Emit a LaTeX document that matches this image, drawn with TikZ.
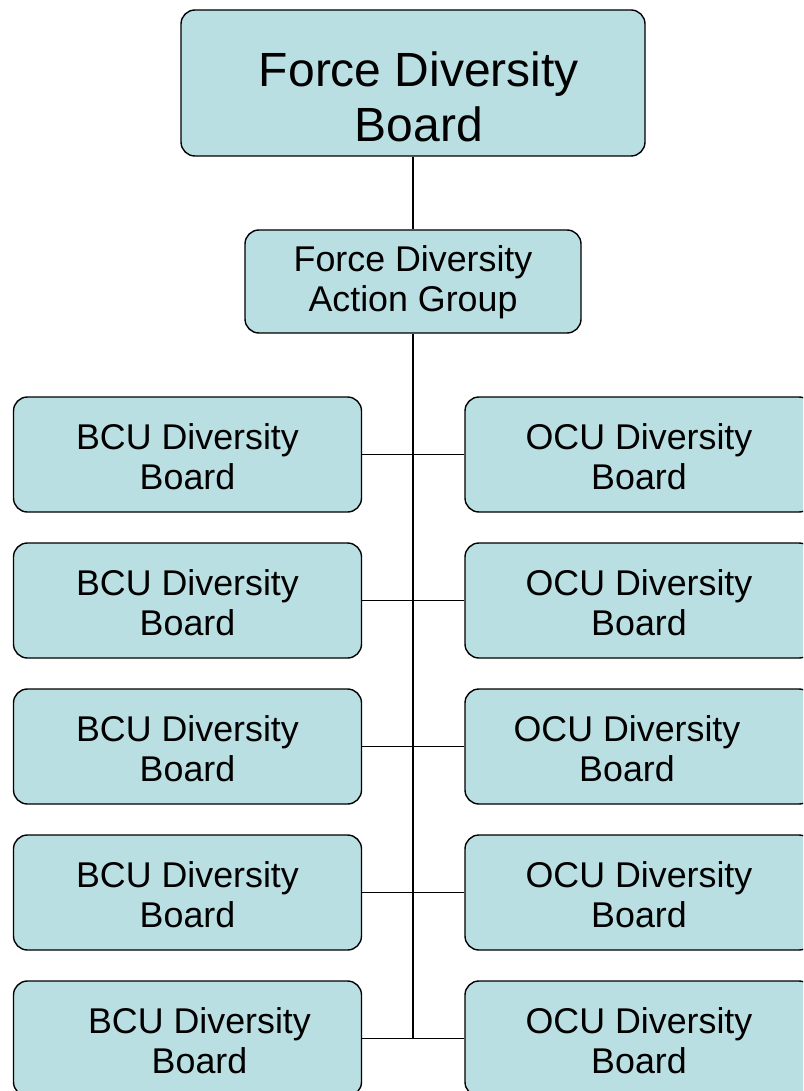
\documentclass[tikz,border=0pt]{standalone}
\usepackage{fontspec}
\setmainfont{Liberation Sans}
\definecolor{boxblue}{RGB}{186,223,227}
\begin{document}
\begin{tikzpicture}[x=1pt,y=-1pt,
  box/.style={draw=black,fill=boxblue,line width=1.4pt,rounded corners=14pt,inner sep=0pt},
  unit/.style={box,minimum width=348pt,minimum height=115pt},
  txt/.style={align=center,inner sep=0pt,font=\fontsize{35.8}{40}\selectfont},
  bigtxt/.style={align=center,inner sep=0pt,font=\fontsize{48}{55}\selectfont},
  link/.style={draw=black,line width=1.4pt}]
\clip (0,0) rectangle (803,1091);
\useasboundingbox (0,0) rectangle (803,1091);
\fill[white] (0,0) rectangle (803,1091);
% boxes
\node[box,minimum width=464pt,minimum height=146pt] (fdb) at (413,83) {};
\node[box,minimum width=336pt,minimum height=103pt] (fdag) at (413,281.5) {};
\node[unit] (l1) at (187.5,454.5) {};
\node[unit] (l2) at (187.5,600.5) {};
\node[unit] (l3) at (187.5,746.5) {};
\node[unit] (l4) at (187.5,892.5) {};
\node[unit] (l5) at (187.5,1038.5) {};
\node[unit] (r1) at (639,454.5) {};
\node[unit] (r2) at (639,600.5) {};
\node[unit] (r3) at (639,746.5) {};
\node[unit] (r4) at (639,892.5) {};
\node[unit] (r5) at (639,1038.5) {};
\coordinate (spineend) at (413,1038.5);
% connectors
\path[link] (fdb) -- (fdag);
\path[link] (fdag.south) -- (spineend);
\path[link] (l1.east) -- (r1.west);
\path[link] (l2.east) -- (r2.west);
\path[link] (l3.east) -- (r3.west);
\path[link] (l4.east) -- (r4.west);
\path[link] (l5.east) -- (r5.west);
% texts
\node[bigtxt] (fdbt) at ([xshift=6pt,yshift=-14pt]fdb.center) {Force Diversity\\Board};
\node[txt] (fdagt) at ([yshift=-1pt]fdag.center) {Force Diversity\\Action Group};
\node[txt] (l1t) at ([yshift=-2pt]l1.center) {BCU Diversity\\Board};
\node[txt] (l2t) at ([yshift=-2pt]l2.center) {BCU Diversity\\Board};
\node[txt] (l3t) at ([yshift=-2pt]l3.center) {BCU Diversity\\Board};
\node[txt] (l4t) at ([yshift=-2pt]l4.center) {BCU Diversity\\Board};
\node[txt] (l5t) at ([xshift=12pt,yshift=-2pt]l5.center) {BCU Diversity\\Board};
\node[txt] (r1t) at ([yshift=-2pt]r1.center) {OCU Diversity\\Board};
\node[txt] (r2t) at ([yshift=-2pt]r2.center) {OCU Diversity\\Board};
\node[txt] (r3t) at ([xshift=-12pt,yshift=-2pt]r3.center) {OCU Diversity\\Board};
\node[txt] (r4t) at ([yshift=-2pt]r4.center) {OCU Diversity\\Board};
\node[txt] (r5t) at ([yshift=-2pt]r5.center) {OCU Diversity\\Board};
\end{tikzpicture}
\end{document}
